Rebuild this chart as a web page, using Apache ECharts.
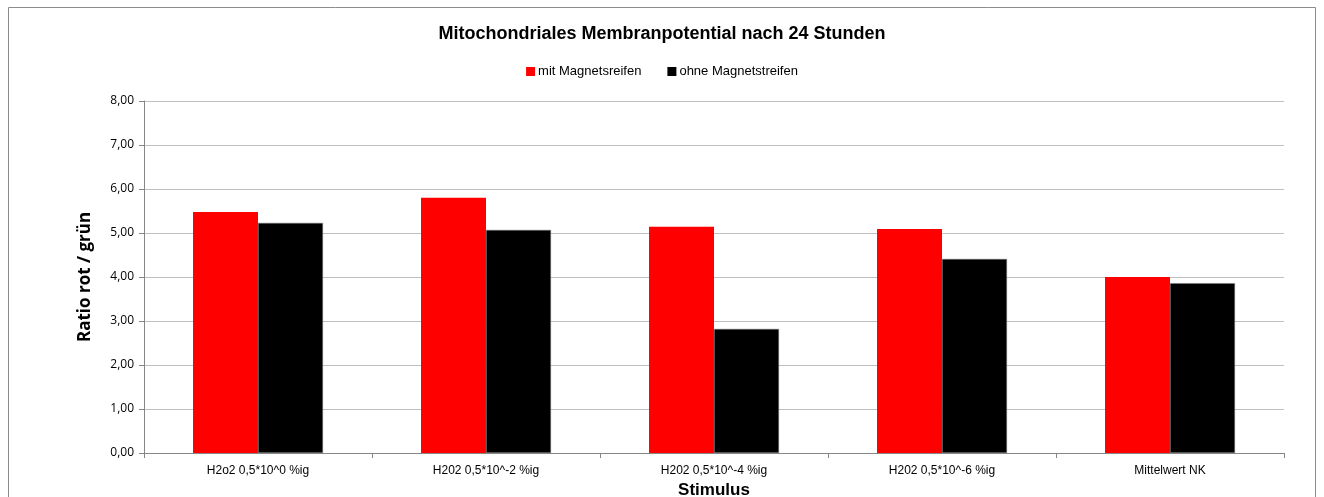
<!DOCTYPE html>
<html>
<head>
<meta charset="utf-8">
<script src="https://cdn.jsdelivr.net/npm/echarts@6/dist/echarts.min.js"></script>
<style>
  html, body { margin: 0; padding: 0; background: #fff; }
  #chart { width: 1324px; height: 497px; }
</style>
</head>
<body>
<div id="chart"></div>
<script>
const categories = [
  'H2o2 0,5*10^0 %ig',
  'H202 0,5*10^-2 %ig',
  'H202 0,5*10^-4 %ig',
  'H202 0,5*10^-6 %ig',
  'Mittelwert NK',
]
const mitValues = [5.48, 5.80, 5.14, 5.09, 4.00]
const ohneValues = [5.23, 5.07, 2.82, 4.41, 3.86]
const seriesNames = ['mit Magnetsreifen', 'ohne Magnetstreifen']

const font = "'Liberation Sans', sans-serif"

const chart = echarts.init(document.getElementById('chart'))

chart.setOption({
  backgroundColor: '#fff',
  animation: false,
  textStyle: { fontFamily: font },
  graphic: [
    {
      type: 'rect',
      shape: { x: 8.5, y: 7.5, width: 1307, height: 520 },
      style: { fill: 'none', stroke: '#8c8c8c', lineWidth: 1 },
      silent: true,
    },
  ],
  title: {
    text: 'Mitochondriales Membranpotential nach 24 Stunden',
    left: 'center',
    top: 20,
    textStyle: { fontFamily: font, fontSize: 18, fontWeight: 'bold', color: '#000' },
  },
  legend: {
    data: seriesNames,
    top: 60,
    left: 'center',
    itemWidth: 9,
    itemHeight: 9,
    itemGap: 26,
    icon: 'rect',
    itemStyle: { borderWidth: 0 },
    textStyle: { fontFamily: font, fontSize: 13, color: '#000', padding: [0, 0, 0, -2] },
  },
  grid: {
    left: 144,
    right: 40,
    top: 101,
    bottom: 44,
    outerBoundsMode: 'none',
    containLabel: false,
  },
  xAxis: {
    type: 'category',
    data: categories,
    name: 'Stimulus',
    nameLocation: 'middle',
    nameGap: 29,
    nameTextStyle: { fontFamily: font, fontSize: 17, fontWeight: 'bold', color: '#000' },
    axisLine: { lineStyle: { color: '#868686' } },
    axisTick: { show: true, length: 5, lineStyle: { color: '#868686' } },
    axisLabel: { fontFamily: font, fontSize: 12, color: '#000', margin: 12 },
  },
  yAxis: {
    type: 'value',
    min: 0,
    max: 8,
    interval: 1,
    name: 'Ratio rot / grün',
    nameLocation: 'middle',
    nameGap: 50,
    nameTextStyle: { fontFamily: "'Open Sans', sans-serif", fontSize: 17, fontWeight: 'bold', color: '#000' },
    axisLine: { show: true, lineStyle: { color: '#868686' } },
    axisTick: { show: true, length: 5, lineStyle: { color: '#868686' } },
    axisLabel: {
      fontFamily: "'Open Sans', sans-serif",
      fontSize: 12,
      color: '#000',
      margin: 10,
      formatter: v => v.toFixed(2).replace('.', ','),
    },
    splitLine: { lineStyle: { color: '#c0c0c0' } },
  },
  series: [
    {
      name: seriesNames[0],
      type: 'bar',
      data: mitValues,
      itemStyle: { color: '#ff0000' },
      barGap: '0%',
      barCategoryGap: '43%',
    },
    {
      name: seriesNames[1],
      type: 'bar',
      data: ohneValues,
      itemStyle: { color: '#000000', borderColor: '#7f7f7f', borderWidth: 0.5 },
      barGap: '0%',
      barCategoryGap: '43%',
    },
  ],
})
</script>
</body>
</html>
